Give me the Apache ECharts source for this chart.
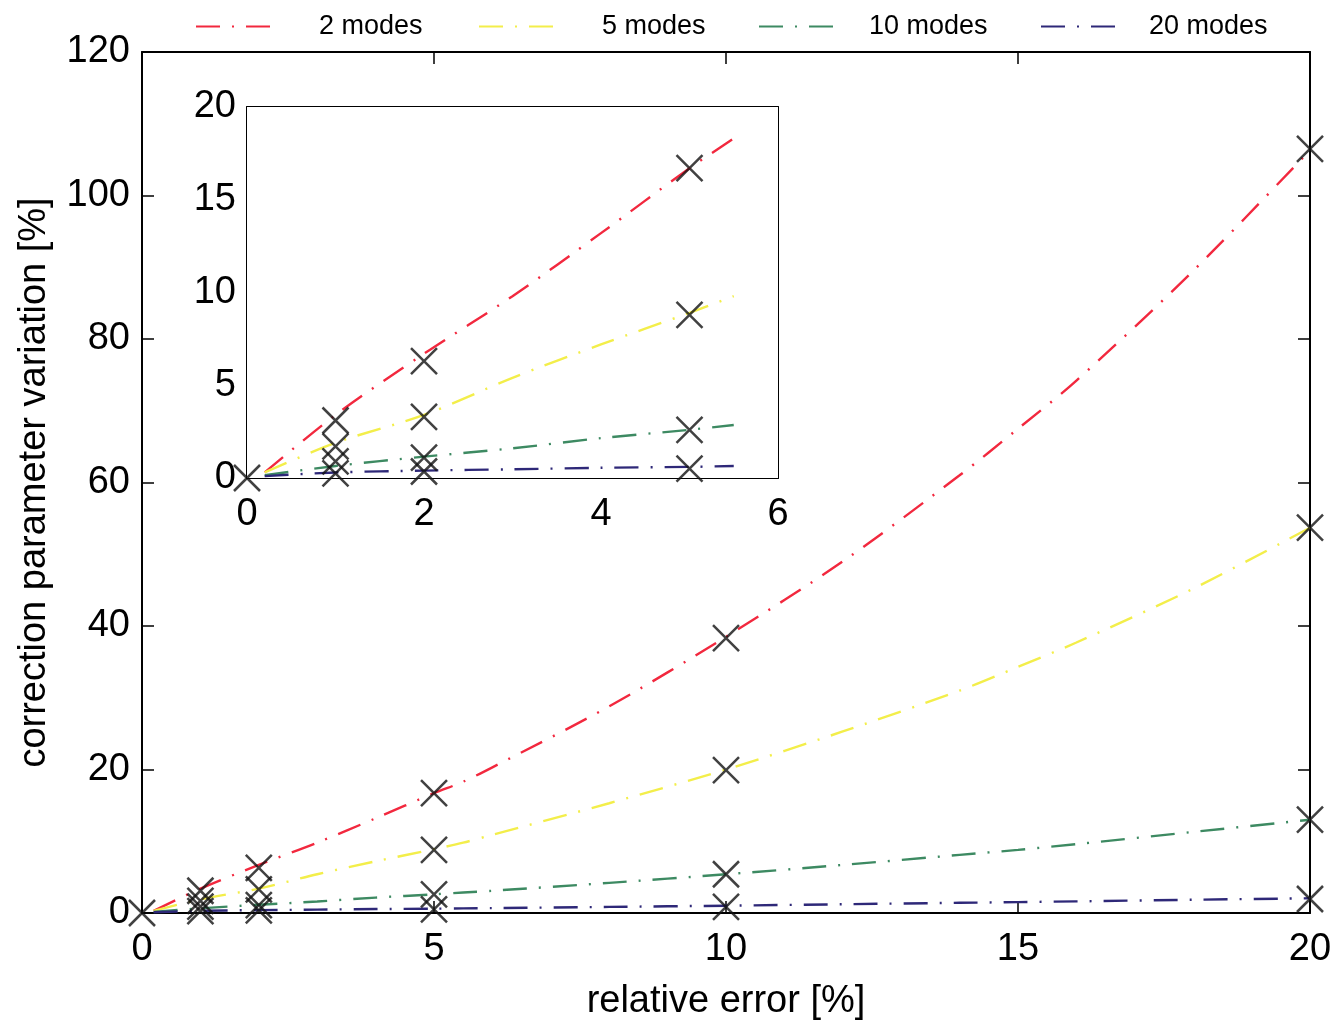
<!DOCTYPE html>
<html>
<head>
<meta charset="utf-8">
<script src="https://cdn.jsdelivr.net/npm/echarts@6/dist/echarts.min.js"></script>
<style>
html,body{margin:0;padding:0;background:#fff;}
#chart{width:1339px;height:1026px;}
</style>
</head>
<body>
<div id="chart"></div>
<script>
// ---- data ----
const seriesNames = ['2 modes', '5 modes', '10 modes', '20 modes'];
const curveX = [0.2, 1, 2, 3, 4, 5, 5.5, 6, 8, 10, 12, 14, 15, 16, 18, 20];
const curve2 = [0.3, 3.4, 6.7, 9.8, 13.2, 16.7, 18.3, 20.3, 28.8, 38.5, 49, 61, 67.5, 74.2, 89.5, 106.3];
const curve5 = [0.3, 1.9, 3.4, 5.4, 7.2, 8.9, 9.8, 10.9, 15.3, 20, 25.3, 31, 34.3, 37.7, 45.2, 53.7];
const curve10 = [0.15, 0.65, 1.15, 1.6, 2.15, 2.6, 2.86, 3.1, 4.2, 5.4, 6.7, 8.1, 8.8, 9.6, 11.3, 13.0];
const curve20 = [0.1, 0.3, 0.4, 0.47, 0.55, 0.6, 0.65, 0.68, 0.85, 1.02, 1.22, 1.42, 1.52, 1.62, 1.85, 2.05];
const insetMaxX = 5.5;
const markerX = [0, 1, 1, 1, 1, 2, 2, 2, 2, 5, 5, 5, 5, 10, 10, 10, 10, 20, 20, 20, 20];
const markerY = [0, 3.1, 1.7, 0.9, 0.25, 6.3, 3.3, 1.1, 0.35, 16.7, 8.8, 2.6, 0.5, 38.3, 19.9, 5.4, 0.85, 106.5, 53.7, 13.0, 1.95];
const mainXTicks = [0, 5, 10, 15, 20];
const mainYTicks = [0, 20, 40, 60, 80, 100, 120];
const insetXTicks = [0, 2, 4, 6];
const insetYTicks = [0, 5, 10, 15, 20];

// ---- styles ----
const colors = ['#f2283e', '#f3ee4a', '#3d8a62', '#2e2878'];
const font = 'Liberation Sans, Arial, Helvetica, sans-serif';
const curves = [curve2, curve5, curve10, curve20];
const dash = [24, 12, 2, 12];

const chart = echarts.init(document.getElementById('chart'), null, {renderer: 'canvas'});

function pairs(xs, ys, maxX) {
  const out = [];
  for (let i = 0; i < xs.length; i++) {
    if (maxX === undefined || xs[i] <= maxX + 1e-9) out.push([xs[i], ys[i]]);
  }
  return out;
}

function valAxis(gridIndex, pos, ticks, showLabels, labelMargin) {
  return {
    type: 'value', gridIndex: gridIndex, position: pos,
    min: ticks[0], max: ticks[ticks.length - 1], interval: ticks[1] - ticks[0],
    splitLine: {show: false},
    axisLine: {show: true, onZero: false, lineStyle: {color: '#000', width: 2}},
    axisTick: {show: true, inside: true, length: 12, lineStyle: {color: '#000', width: 1.5}},
    axisLabel: {show: showLabels, color: '#000', fontSize: 38, fontFamily: font, margin: labelMargin}
  };
}

const xAxes = [
  Object.assign(valAxis(0, 'bottom', mainXTicks, true, 18), {
    name: 'relative error [%]', nameLocation: 'middle', nameGap: 70,
    nameTextStyle: {color: '#000', fontSize: 38, fontFamily: font}
  }),
  valAxis(0, 'top', mainXTicks, false, 8),
  valAxis(1, 'bottom', insetXTicks, true, 18),
  valAxis(1, 'top', insetXTicks, false, 8)
];
const yAxes = [
  Object.assign(valAxis(0, 'left', mainYTicks, true, 12), {
    name: 'correction parameter variation [%]', nameLocation: 'middle', nameGap: 88,
    nameTextStyle: {color: '#000', fontSize: 38, fontFamily: font}
  }),
  valAxis(0, 'right', mainYTicks, false, 8),
  valAxis(1, 'left', insetYTicks, true, 11),
  valAxis(1, 'right', insetYTicks, false, 8)
];

const series = [];
for (let k = 0; k < 4; k++) {
  series.push({
    name: seriesNames[k], type: 'line', xAxisIndex: 0, yAxisIndex: 0,
    data: pairs(curveX, curves[k]), showSymbol: false, symbol: 'none', smooth: 0.3,
    lineStyle: {color: colors[k], width: 2.4, type: dash}, itemStyle: {color: colors[k]}, z: 3
  });
}
for (let k = 0; k < 4; k++) {
  series.push({
    name: seriesNames[k], type: 'line', xAxisIndex: 2, yAxisIndex: 2,
    data: pairs(curveX, curves[k], insetMaxX), showSymbol: false, symbol: 'none', smooth: 0.3,
    lineStyle: {color: colors[k], width: 2.4, type: dash}, itemStyle: {color: colors[k]}, z: 6
  });
}
const crossPath = 'path://M0,0L10,10M10,0L0,10';
const markerStyle = {color: 'rgba(0,0,0,0)', borderColor: '#111', borderWidth: 2.5};
series.push({
  name: 'markers', type: 'scatter', xAxisIndex: 0, yAxisIndex: 0,
  data: pairs(markerX, markerY), symbol: crossPath, symbolSize: 26,
  itemStyle: markerStyle, clip: false, z: 4, silent: true
});
series.push({
  name: 'markers inset', type: 'scatter', xAxisIndex: 2, yAxisIndex: 2,
  data: pairs(markerX, markerY, insetMaxX), symbol: crossPath, symbolSize: 26,
  itemStyle: markerStyle, clip: false, z: 7, silent: true
});

const legendPos = [
  {left: 195, pad: 38},
  {left: 478, pad: 38},
  {left: 758, pad: 25},
  {left: 1040, pad: 23}
];
const legends = legendPos.map(function (p, k) {
  return {
    data: [seriesNames[k]], left: p.left, top: 13, itemWidth: 80, itemHeight: 22,
    padding: 0,
    itemStyle: {opacity: 0},
    textStyle: {color: '#000', fontSize: 27, fontFamily: font, padding: [0, 0, 0, p.pad]},
    selectedMode: false
  };
});

chart.setOption({
  backgroundColor: '#fff',
  animation: false,
  legend: legends,
  grid: [
    {left: 142, top: 52, width: 1168, height: 861, show: false},
    {left: 247, top: 107, width: 531, height: 371, show: true, backgroundColor: '#fff', borderWidth: 0, z: 5}
  ],
  xAxis: xAxes,
  yAxis: yAxes,
  series: series
});
</script>
</body>
</html>
